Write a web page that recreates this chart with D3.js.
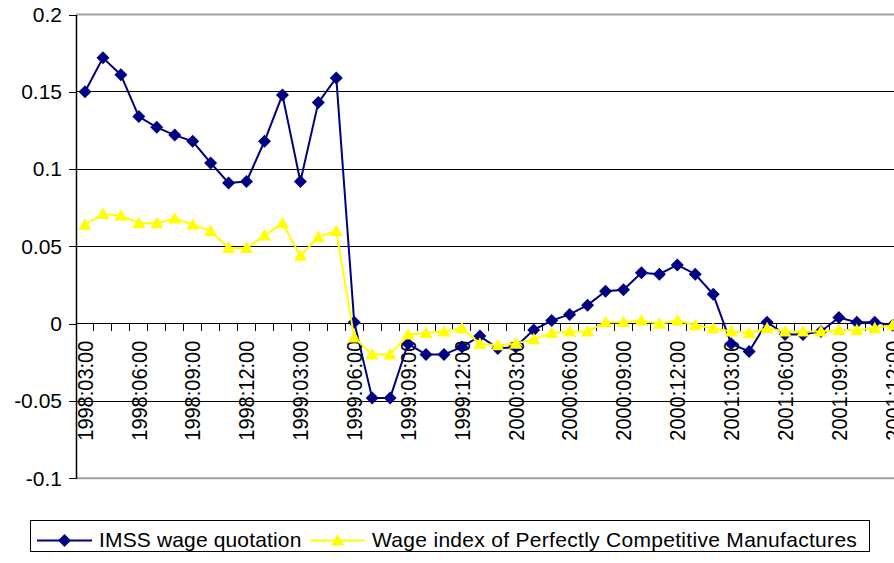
<!DOCTYPE html>
<html>
<head>
<meta charset="utf-8">
<script src="https://cdn.jsdelivr.net/npm/d3@7"></script>
<style>
    html, body { margin: 0; padding: 0; background: #fff; overflow: hidden; }
    svg { display: block; font-family: "Liberation Sans", Arial, sans-serif; }
</style>
</head>
<body>
<div id="chart"></div>
<script>
// Chart data
const categories = [
    '1998:03:00', '1998:04:00', '1998:05:00', '1998:06:00', '1998:07:00', '1998:08:00',
    '1998:09:00', '1998:10:00', '1998:11:00', '1998:12:00',
    '1999:01:00', '1999:02:00', '1999:03:00', '1999:04:00', '1999:05:00', '1999:06:00',
    '1999:07:00', '1999:08:00', '1999:09:00', '1999:10:00', '1999:11:00', '1999:12:00',
    '2000:01:00', '2000:02:00', '2000:03:00', '2000:04:00', '2000:05:00', '2000:06:00',
    '2000:07:00', '2000:08:00', '2000:09:00', '2000:10:00', '2000:11:00', '2000:12:00',
    '2001:01:00', '2001:02:00', '2001:03:00', '2001:04:00', '2001:05:00', '2001:06:00',
    '2001:07:00', '2001:08:00', '2001:09:00', '2001:10:00', '2001:11:00', '2001:12:00'
];

const imssWage = [
    0.150, 0.172, 0.161, 0.134, 0.127, 0.122, 0.118, 0.104, 0.091, 0.092,
    0.118, 0.148, 0.092, 0.143, 0.159, 0.001, -0.048, -0.048, -0.013, -0.020, -0.020, -0.015,
    -0.008, -0.016, -0.015, -0.004, 0.002, 0.006, 0.012, 0.021, 0.022, 0.033, 0.032, 0.038,
    0.032, 0.019, -0.013, -0.018, 0.001, -0.007, -0.007, -0.005, 0.004, 0.001, 0.001, -0.001
];

const wageIndex = [
    0.064, 0.071, 0.070, 0.065, 0.065, 0.068, 0.064, 0.060, 0.049, 0.049,
    0.057, 0.065, 0.044, 0.056, 0.060, -0.009, -0.020, -0.020, -0.007, -0.006, -0.005, -0.003,
    -0.013, -0.014, -0.013, -0.010, -0.006, -0.005, -0.005, 0.001, 0.001, 0.002, 0.000, 0.002,
    -0.001, -0.003, -0.005, -0.006, -0.003, -0.005, -0.005, -0.005, -0.004, -0.004, -0.003, -0.001
];

const yTicks = [-0.1, -0.05, 0, 0.05, 0.1, 0.15, 0.2];
const seriesNames = ['IMSS wage quotation', 'Wage index of Perfectly Competitive Manufactures'];

// Layout
const width = 894;
const height = 563;
const plotLeft = 76;
const bandW = 17.95;
const plotTop = 14.5;
const plotBottom = 478.3;

const svg = d3.select('#chart')
    .append('svg')
    .attr('width', width)
    .attr('height', height);

// Scales
const x = d3.scaleBand()
    .domain(categories)
    .range([plotLeft, plotLeft + categories.length * bandW])
    .paddingInner(0)
    .paddingOuter(0);

const y = d3.scaleLinear()
    .domain([-0.1, 0.2])
    .range([plotBottom, plotTop]);

const cx = d => x(d) + x.bandwidth() / 2;

// Gridlines
svg.append('g')
    .selectAll('line')
    .data(yTicks.filter(t => t !== 0 && t !== 0.2 && t !== -0.1))
    .join('line')
    .attr('x1', plotLeft).attr('x2', width)
    .attr('y1', d => y(d)).attr('y2', d => y(d))
    .attr('stroke', '#000')
    .attr('stroke-width', 1)
    .attr('shape-rendering', 'crispEdges');

// Plot area border (top and bottom)
svg.append('g')
    .selectAll('line')
    .data([0.2, -0.1])
    .join('line')
    .attr('x1', plotLeft).attr('x2', width)
    .attr('y1', d => y(d)).attr('y2', d => y(d))
    .attr('stroke', '#a0a0a0')
    .attr('stroke-width', 2);

// Y axis
const yAxis = svg.append('g')
    .attr('transform', 'translate(' + plotLeft + ',0)')
    .call(d3.axisLeft(y).tickValues(yTicks).tickSize(7).tickSizeOuter(0).tickFormat(d => String(d)));
yAxis.select('.domain').attr('stroke', '#000').attr('stroke-width', 1.5);
yAxis.selectAll('.tick line').attr('stroke', '#000').attr('shape-rendering', 'crispEdges');
yAxis.selectAll('.tick text')
    .attr('x', -14)
    .attr('font-size', '21px')
    .attr('font-family', '"Liberation Sans", Arial, sans-serif')
    .attr('fill', '#000');

// X axis at zero
const xAxisG = svg.append('g');
xAxisG.append('line')
    .attr('x1', plotLeft).attr('x2', width)
    .attr('y1', y(0)).attr('y2', y(0))
    .attr('stroke', '#000')
    .attr('stroke-width', 1)
    .attr('shape-rendering', 'crispEdges');

xAxisG.selectAll('line.tick')
    .data(categories)
    .join('line')
    .attr('class', 'tick')
    .attr('x1', d => x(d) + x.bandwidth()).attr('x2', d => x(d) + x.bandwidth())
    .attr('y1', y(0)).attr('y2', y(0) + 7)
    .attr('stroke', '#000')
    .attr('shape-rendering', 'crispEdges');

xAxisG.selectAll('text')
    .data(categories.filter((d, i) => i % 3 === 0))
    .join('text')
    .attr('transform', d => 'translate(' + cx(d) + ',' + (y(0) + 17) + ') scale(1.08,1) rotate(-90)')
    .attr('text-anchor', 'end')
    .attr('dy', '0.36em')
    .attr('font-size', '20px')
    .attr('fill', '#000')
    .text(d => d);

// Line generators
const line = values => d3.line()
    .x((d, i) => cx(categories[i]))
    .y(d => y(d))(values);

const diamond = 'M0,-6.5L6.5,0L0,6.5L-6.5,0Z';
const triangle = 'M0,-6.5L6.5,5L-6.5,5Z';

// IMSS series
svg.append('path')
    .attr('d', line(imssWage))
    .attr('fill', 'none')
    .attr('stroke', '#000080')
    .attr('stroke-width', 2);

svg.append('g')
    .selectAll('path')
    .data(imssWage)
    .join('path')
    .attr('d', diamond)
    .attr('transform', (d, i) => 'translate(' + cx(categories[i]) + ',' + y(d) + ')')
    .attr('fill', '#000080');

// Wage index series
svg.append('path')
    .attr('d', line(wageIndex))
    .attr('fill', 'none')
    .attr('stroke', '#ffff00')
    .attr('stroke-width', 2);

svg.append('g')
    .selectAll('path')
    .data(wageIndex)
    .join('path')
    .attr('d', triangle)
    .attr('transform', (d, i) => 'translate(' + cx(categories[i]) + ',' + y(d) + ')')
    .attr('fill', '#ffff00');

// Legend
const legend = svg.append('g');
legend.append('rect')
    .attr('x', 30.5).attr('y', 520.5)
    .attr('width', 839).attr('height', 31)
    .attr('fill', '#fff')
    .attr('stroke', '#000')
    .attr('stroke-width', 1);

const legendItems = [
    { name: seriesNames[0], color: '#000080', shape: diamond, x0: 37, tx: 99, spacing: 0.15 },
    { name: seriesNames[1], color: '#ffff00', shape: triangle, x0: 310, tx: 372, spacing: 0.3 }
];

legendItems.forEach(item => {
    legend.append('line')
        .attr('x1', item.x0).attr('x2', item.x0 + 55)
        .attr('y1', 540.5).attr('y2', 540.5)
        .attr('stroke', item.color)
        .attr('stroke-width', 2);
    legend.append('path')
        .attr('d', item.shape)
        .attr('transform', 'translate(' + (item.x0 + 27.5) + ',540.5)')
        .attr('fill', item.color);
    legend.append('text')
        .attr('x', item.tx).attr('y', 546.5)
        .attr('font-size', '21px')
        .attr('letter-spacing', item.spacing)
        .attr('fill', '#000')
        .text(item.name);
});
</script>
</body>
</html>
